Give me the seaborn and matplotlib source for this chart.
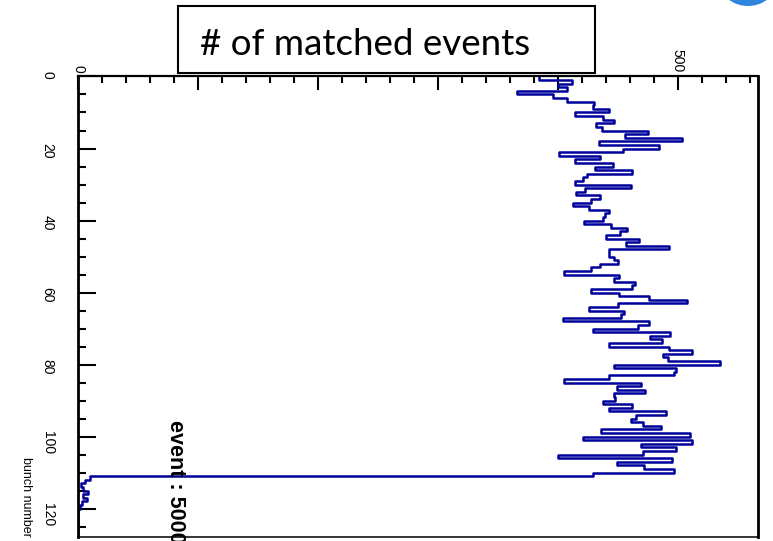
import numpy as np
import pandas as pd
import matplotlib
matplotlib.use("Agg")
import matplotlib.pyplot as plt
import seaborn as sns
from matplotlib.patches import Rectangle, Ellipse
from matplotlib.ticker import MultipleLocator

# ========== data ==========
n_bunches = 128
bunch_numbers = np.arange(n_bunches) + 0.5
matched_events = [
    384, 412, 400, 408, 366, 396, 408, 430, 429, 443,
    414, 438, 447, 432, 437, 475, 456, 504, 434, 484,
    454, 401, 435, 414, 446, 431, 462, 424, 421, 414,
    461, 423, 415, 435, 428, 413, 426, 443, 439, 438,
    422, 444, 458, 452, 440, 468, 457, 493, 443, 443,
    447, 450, 435, 428, 405, 451, 447, 464, 462, 428,
    451, 476, 508, 450, 426, 455, 453, 404, 476, 467,
    429, 494, 477, 487, 443, 493, 512, 488, 492, 535,
    447, 499, 497, 443, 405, 469, 449, 473, 447, 448,
    438, 462, 443, 490, 465, 461, 471, 486, 436, 510,
    421, 512, 469, 499, 471, 400, 495, 449, 472, 497,
    429, 10, 6, 2, 4, 8, 4, 7, 3, 1,
    0, 0, 0, 0, 0, 0, 0, 0,
]
count_ticks = [0, 100, 200, 300, 400, 500]
# labels 100..400 sit under the title box in the picture
count_labels = ["0", "", "", "", "", "500"]
bunch_ticks = [0, 20, 40, 60, 80, 100, 120]
title_text = "# of matched events"
axis_title = "bunch number"
event_text = "event : 50000"

df = pd.DataFrame({"bunch": bunch_numbers, "events": matched_events})

# ========== style ==========
sns.set_style("white")
root_font = ["Liberation Sans", "DejaVu Sans"]
plt.rcParams["font.family"] = root_font
plt.rcParams["text.color"] = "black"
plt.rcParams["xtick.color"] = "black"
plt.rcParams["ytick.color"] = "black"

fig = plt.figure(figsize=(7.73, 5.41), dpi=100)
ax = fig.add_axes([0.1013, 0.0068, 0.8793, 0.8518])

# horizontal step histogram
sns.histplot(data=df, y="bunch", weights="events", bins=n_bunches,
             binrange=(0, n_bunches), element="step", fill=False,
             color="#00009c", linewidth=1.8, ax=ax)

ax.set_xlim(0, 567)
ax.set_ylim(n_bunches, 0)
ax.set_xlabel("")
ax.set_ylabel("")

# count axis on top, bunch axis on the left (ROOT picture turned by 90 deg)
ax.xaxis.tick_top()
ax.set_xticks(count_ticks)
ax.set_xticklabels(count_labels)
ax.xaxis.set_minor_locator(MultipleLocator(20))
ax.set_yticks(bunch_ticks)
ax.yaxis.set_minor_locator(MultipleLocator(5))

ax.tick_params(axis="x", which="both", direction="in", top=True, bottom=False,
               labeltop=True, labelbottom=False, width=1.5, color="black",
               labelcolor="black")
ax.tick_params(axis="x", which="major", length=10, pad=3, labelsize=10,
               labelrotation=-90)
ax.tick_params(axis="x", which="minor", length=5)
ax.tick_params(axis="y", which="both", direction="in", left=True, right=False,
               width=1.5, color="black", labelcolor="black")
ax.tick_params(axis="y", which="major", length=13, pad=17, labelsize=10,
               labelrotation=-90)
ax.tick_params(axis="y", which="minor", length=6)

for side, lw in {"left": 2.0, "top": 1.6, "right": 2.0, "bottom": 1.1}.items():
    ax.spines[side].set_visible(True)
    ax.spines[side].set_color("black")
    ax.spines[side].set_linewidth(lw)

# axis title and event label, turned like the rest of the ROOT canvas
fig.text(26 / 773, 4 / 541, axis_title, rotation=-90, ha="center", va="bottom",
         fontsize=9, family=root_font)
fig.text(176 / 773, 1 - 420 / 541, event_text, rotation=-90, ha="center",
         va="top", fontsize=15.5, fontweight="bold", family=root_font)

# overlay title box
fig.add_artist(Rectangle((178 / 773, 1 - 73 / 541), 417 / 773, 67 / 541,
                         transform=fig.transFigure, facecolor="white",
                         edgecolor="black", linewidth=1.5, zorder=10))
fig.text(200 / 773, 1 - 55 / 541, title_text, ha="left", va="baseline",
         fontsize=26.5, color="black", family=["Lato", "DejaVu Sans"],
         zorder=11)

# piece of a round logo cut by the top edge
fig.add_artist(Ellipse((748 / 773, 1 + 14 / 541), 52 / 773, 40 / 541,
                       transform=fig.transFigure, facecolor="#2f86dc",
                       edgecolor="none", zorder=10))

fig.savefig("out.png", dpi=100)
